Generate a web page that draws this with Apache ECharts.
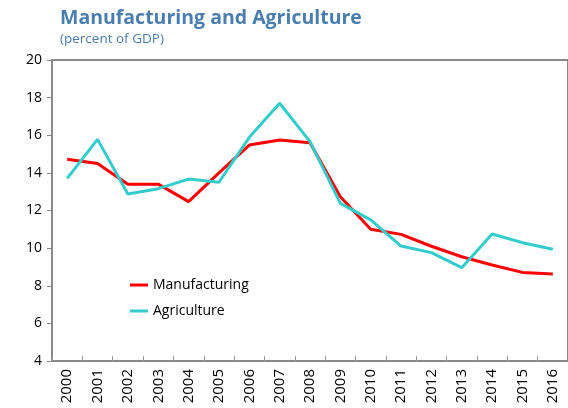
<!DOCTYPE html>
<html>
<head>
<meta charset="utf-8">
<script src="https://cdn.jsdelivr.net/npm/echarts@6/dist/echarts.min.js"></script>
<style>
  html, body { margin: 0; padding: 0; background: #fff; }
  #chart { width: 568px; height: 408px; }
</style>
</head>
<body>
<div id="chart"></div>
<script>
// Share of GDP by sector, 2000-2016
const years = ['2000','2001','2002','2003','2004','2005','2006','2007','2008',
               '2009','2010','2011','2012','2013','2014','2015','2016'];
const manufacturing = [14.72, 14.5, 13.39, 13.4, 12.47, 14.0, 15.48, 15.75, 15.6,
                       12.73, 11.0, 10.73, 10.1, 9.54, 9.1, 8.71, 8.62];
const agriculture = [13.71, 15.78, 12.88, 13.16, 13.67, 13.5, 15.89, 17.7, 15.66,
                     12.38, 11.5, 10.11, 9.76, 8.96, 10.75, 10.29, 9.94];
const yTicks = { min: 4, max: 20, step: 2 };

const font = '"Open Sans", "Noto Sans", sans-serif';
const chart = echarts.init(document.getElementById('chart'));
chart.setOption({
  animation: false,
  textStyle: { fontFamily: font },
  title: {
    text: 'Manufacturing and Agriculture',
    subtext: '(percent of GDP)',
    left: 55, top: 3,
    itemGap: 4,
    textStyle: { fontFamily: font, fontSize: 19.5, fontWeight: 'bold', color: '#4a7eb0' },
    subtextStyle: { fontFamily: font, fontSize: 13.5, color: '#4a7eb0' }
  },
  legend: {
    orient: 'vertical',
    left: 125, top: 273,
    itemWidth: 18, itemHeight: 3, itemGap: 12,
    icon: 'rect',
    textStyle: { fontFamily: font, fontSize: 14, color: '#000' },
    data: ['Manufacturing', 'Agriculture']
  },
  grid: {
    left: 52, top: 60, width: 520, height: 301,
    show: true, borderColor: '#666', borderWidth: 1.5, containLabel: false
  },
  xAxis: {
    type: 'category',
    data: years,
    boundaryGap: true,
    axisLine: { lineStyle: { color: '#888', width: 2 } },
    axisTick: { show: true, inside: true, length: 5, lineStyle: { color: '#999' } },
    axisLabel: { rotate: 90, fontSize: 15, color: '#000', margin: 8, fontFamily: font }
  },
  yAxis: {
    type: 'value',
    min: yTicks.min, max: yTicks.max, interval: yTicks.step,
    splitLine: { show: false },
    axisLine: { show: true, lineStyle: { color: '#888', width: 1.5 } },
    axisTick: { show: true, length: 5, lineStyle: { color: '#888' } },
    axisLabel: { fontSize: 14, color: '#000', margin: 10, fontFamily: font }
  },
  series: [
    {
      name: 'Manufacturing', type: 'line', data: manufacturing,
      symbol: 'none', color: '#ff0000',
      lineStyle: { width: 3, color: '#ff0000' }
    },
    {
      name: 'Agriculture', type: 'line', data: agriculture,
      symbol: 'none', color: '#33cccc',
      lineStyle: { width: 3, color: '#33cccc' }
    }
  ]
});
</script>
</body>
</html>
